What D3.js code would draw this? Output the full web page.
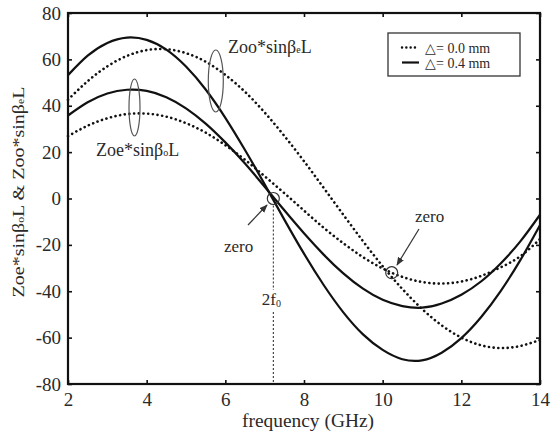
<!DOCTYPE html>
<html>
<head>
<meta charset="utf-8">
<script src="https://cdn.jsdelivr.net/npm/d3@7"></script>
<style>
  body { margin: 0; background: #fff; }
  text { font-family: "Liberation Serif", "Times New Roman", serif; fill: #2a2a2a; }
</style>
</head>
<body>
<div id="chart"></div>
<script>
// values, one point every 0.5 GHz
var freq = [2, 2.5, 3, 3.5, 4, 4.5, 5, 5.5, 6, 6.5, 7, 7.5, 8, 8.5, 9, 9.5, 10, 10.5, 11, 11.5, 12, 12.5, 13, 13.5, 14];
// delta = 0.4 mm (solid)
var zooSolid = [53.2, 61.6, 67.1, 69.4, 68.4, 64.2, 56.9, 47.0, 34.8, 20.9, 6.1, -9.1, -23.8, -37.3, -49.1, -58.6, -65.3, -69.3, -69.8, -66.5, -60.2, -51.2, -39.9, -26.6, -11.5];
var zoeSolid = [35.8, 41.5, 45.3, 46.9, 46.4, 43.7, 38.9, 32.3, 24.2, 15.1, 5.1, -5.1, -15.0, -24.2, -32.3, -38.9, -43.7, -46.4, -47.1, -45.3, -41.5, -35.8, -28.0, -18.5, -7.0];
// delta = 0.0 mm (dotted)
var zooDotted = [42.6, 50.6, 57.0, 61.5, 64.0, 64.4, 62.7, 59.0, 53.3, 46.0, 37.1, 27.0, 16.1, 4.6, -7.0, -18.4, -29.2, -39.0, -47.6, -54.7, -60.0, -63.3, -64.5, -63.6, -61.0];
var zoeDotted = [26.9, 31.4, 34.6, 36.4, 36.6, 35.3, 32.5, 28.4, 23.0, 16.7, 9.6, 2.3, -5.2, -12.6, -19.3, -25.3, -30.2, -33.8, -36.0, -36.7, -35.8, -33.4, -29.7, -24.9, -17.5];

var xTicks = [2, 4, 6, 8, 10, 12, 14];
var yTicks = [-80, -60, -40, -20, 0, 20, 40, 60, 80];
var legendLabels = ["\u25B3= 0.0 mm", "\u25B3= 0.4 mm"];
var zeroPoints = [[7.22, 0], [10.23, -32]];

var svgWidth = 554, svgHeight = 436;
var margin = {top: 13, right: 14, bottom: 52, left: 68},
    width = svgWidth - margin.left - margin.right,
    height = svgHeight - margin.top - margin.bottom;

var svg = d3.select("#chart").append("svg")
    .attr("width", svgWidth)
    .attr("height", svgHeight);

var g = svg.append("g")
    .attr("transform", `translate(${margin.left},${margin.top})`);

var x = d3.scaleLinear().domain([2, 14]).range([0, width]);
var y = d3.scaleLinear().domain([-80, 80]).range([height, 0]);

// axes, ticks inside, on all four sides
function styleAxis(sel) {
  sel.select(".domain").remove();
  sel.selectAll(".tick line").attr("stroke", "#111").attr("stroke-width", 1.6);
  sel.selectAll(".tick text").style("font-size", "19px").attr("fill", "#2a2a2a");
}
g.append("g").attr("transform", `translate(0,${height})`)
  .call(d3.axisBottom(x).tickValues(xTicks).tickSize(-4).tickPadding(9).tickFormat(d => String(d)))
  .call(styleAxis);
g.append("g")
  .call(d3.axisLeft(y).tickValues(yTicks).tickSize(-4).tickPadding(7).tickFormat(d => String(d)))
  .call(styleAxis);
g.append("g")
  .call(d3.axisTop(x).tickValues(xTicks).tickSize(-4).tickFormat(""))
  .call(styleAxis);
g.append("g").attr("transform", `translate(${width},0)`)
  .call(d3.axisRight(y).tickValues(yTicks).tickSize(-4).tickFormat(""))
  .call(styleAxis);

g.append("rect")
  .attr("width", width).attr("height", height)
  .attr("fill", "none").attr("stroke", "#111").attr("stroke-width", 2.2);

// vertical dotted line at 2f0
var x0 = x(zeroPoints[0][0]);
g.append("line").attr("x1", x0).attr("x2", x0).attr("y1", y(0) + 7).attr("y2", 277)
  .attr("stroke", "#222").attr("stroke-width", 1).attr("stroke-dasharray", "2,2");
g.append("line").attr("x1", x0).attr("x2", x0).attr("y1", 299).attr("y2", height)
  .attr("stroke", "#222").attr("stroke-width", 1).attr("stroke-dasharray", "2,2");
g.append("text").attr("x", x0 - 2).attr("y", 292).attr("text-anchor", "middle")
  .style("font-size", "17px")
  .html('2f<tspan font-size="10px" dy="2">0</tspan>');

// curves
var line = d3.line()
  .x(function(d, i) { return x(freq[i]); })
  .y(function(d) { return y(d); })
  .curve(d3.curveNatural);

[zooDotted, zoeDotted].forEach(function(s) {
  g.append("path").attr("d", line(s))
    .attr("fill", "none").attr("stroke", "#111").attr("stroke-width", 2.6)
    .attr("stroke-linecap", "round").attr("stroke-dasharray", "0.1,4.6");
});
[zooSolid, zoeSolid].forEach(function(s) {
  g.append("path").attr("d", line(s))
    .attr("fill", "none").attr("stroke", "#111").attr("stroke-width", 2.2);
});

// zero circles
g.selectAll(".zc").data(zeroPoints).enter().append("circle")
  .attr("cx", d => x(d[0])).attr("cy", d => y(d[1])).attr("r", 6)
  .attr("fill", "none").attr("stroke", "#333").attr("stroke-width", 1.2);

// arrows
svg.append("defs").append("marker")
  .attr("id", "arr").attr("viewBox", "0 0 10 10").attr("refX", 9).attr("refY", 5)
  .attr("markerWidth", 7).attr("markerHeight", 7).attr("orient", "auto")
  .append("path").attr("d", "M0,1 L10,5 L0,9 z").attr("fill", "#333");

svg.append("line").attr("x1", 248).attr("y1", 225).attr("x2", 267).attr("y2", 205)
  .attr("stroke", "#333").attr("stroke-width", 1.2).attr("marker-end", "url(#arr)");
svg.append("line").attr("x1", 419).attr("y1", 229).attr("x2", 397).attr("y2", 265)
  .attr("stroke", "#333").attr("stroke-width", 1.2).attr("marker-end", "url(#arr)");

svg.append("text").attr("x", 224).attr("y", 252).style("font-size", "17px").text("zero");
svg.append("text").attr("x", 415).attr("y", 222).style("font-size", "17px").text("zero");

// ellipses marking the groups
svg.append("ellipse").attr("cx", 215.8).attr("cy", 81).attr("rx", 7.5).attr("ry", 31)
  .attr("fill", "none").attr("stroke", "#555").attr("stroke-width", 1.2);
svg.append("ellipse").attr("cx", 134.5).attr("cy", 107.5).attr("rx", 5.5).attr("ry", 28.5)
  .attr("fill", "none").attr("stroke", "#555").attr("stroke-width", 1.2);

svg.append("text").attr("x", 228).attr("y", 53).style("font-size", "18px")
  .html('Zoo*sin\u03B2<tspan font-size="10px">e</tspan>L');
svg.append("text").attr("x", 96).attr("y", 156).style("font-size", "18px")
  .html('Zoe*sin\u03B2<tspan font-size="10px">o</tspan>L');

// legend
var leg = svg.append("g").attr("transform", "translate(388,33)");
leg.append("rect").attr("width", 132).attr("height", 43)
  .attr("fill", "#fff").attr("stroke", "#333").attr("stroke-width", 1.3);
legendLabels.forEach(function(t, i) {
  var ly = 14.5 + i * 15;
  leg.append("line").attr("x1", 14).attr("x2", 31).attr("y1", ly).attr("y2", ly)
    .attr("stroke", "#111").attr("stroke-width", i === 0 ? 2.4 : 2.2)
    .attr("stroke-linecap", i === 0 ? "round" : "butt")
    .attr("stroke-dasharray", i === 0 ? "0.1,4.2" : null);
  leg.append("text").attr("x", 37).attr("y", ly + 5).style("font-size", "14px").text(t);
});

// axis titles
svg.append("text").attr("x", 308).attr("y", 427).attr("text-anchor", "middle")
  .style("font-size", "18px").attr("textLength", 132).attr("lengthAdjust", "spacingAndGlyphs")
  .text("frequency (GHz)");
svg.append("text")
  .attr("transform", "translate(24,192) rotate(-90)")
  .attr("text-anchor", "middle").style("font-size", "17px")
  .attr("textLength", 211).attr("lengthAdjust", "spacingAndGlyphs")
  .html('Zoe*sin\u03B2<tspan font-size="10px">o</tspan>L &amp; Zoo*sin\u03B2<tspan font-size="10px">e</tspan>L');
</script>
</body>
</html>
